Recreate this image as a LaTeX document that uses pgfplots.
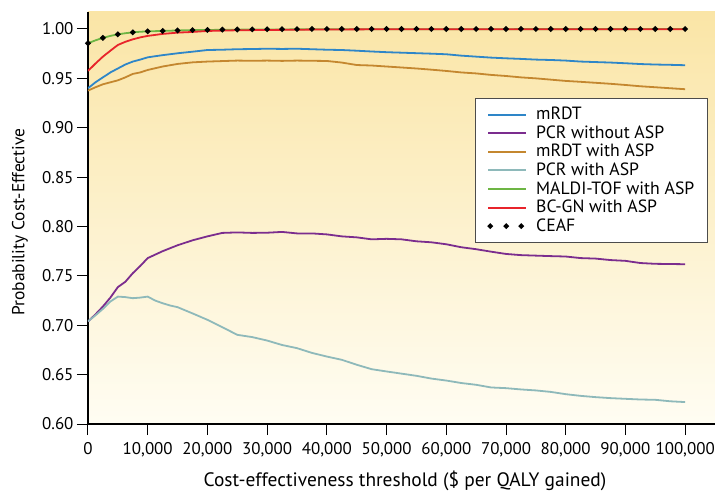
\documentclass[border=0pt]{standalone}
\usepackage{fontspec}
\setmainfont{PT Sans}
\usepackage{pgfplots}
\pgfplotsset{compat=1.18}
\definecolor{cBlue}{RGB}{46,134,200}
\definecolor{cPurple}{RGB}{123,45,142}
\definecolor{cOrange}{RGB}{196,135,47}
\definecolor{cTeal}{RGB}{142,185,186}
\definecolor{cGreen}{RGB}{109,181,68}
\definecolor{cRed}{RGB}{232,36,43}
\definecolor{bgTop}{RGB}{250,229,166}
\definecolor{bgBot}{RGB}{255,253,243}
\begin{document}
\begin{tikzpicture}
\useasboundingbox (-88bp,-67bp) rectangle (627bp,424bp);
\begin{axis}[
  at={(0,0)}, anchor=south west,
  scale only axis, width=627bp, height=412bp,
  xmin=0, xmax=105000, ymin=0.60, ymax=1.0172,
  scaled x ticks=false, scaled y ticks=false,
  axis x line*=bottom, axis y line*=left,
  axis line style={line width=1.5bp, -},
  axis background/.style={top color=bgTop, bottom color=bgBot},
  tick align=outside, major tick length=11bp,
  tick style={black, line width=1bp},
  xtick={0,10000,20000,30000,40000,50000,60000,70000,80000,90000,100000},
  xticklabels={0,{10,000},{20,000},{30,000},{40,000},{50,000},{60,000},{70,000},{80,000},{90,000},{100,000}},
  ytick={0.60,0.65,0.70,0.75,0.80,0.85,0.90,0.95,1.00},
  yticklabels={0.60,0.65,0.70,0.75,0.80,0.85,0.90,0.95,1.00},
  ticklabel style={font=\fontsize{17}{20}\selectfont},
  x tick label style={text height=16bp},
  every axis y label/.style={at={(rel axis cs:0,0.49)}, xshift=-68bp, rotate=90, anchor=center, font=\fontsize{17.5}{21}\selectfont},
  every axis x label/.style={at={(rel axis cs:0.5056,0)}, yshift=-57bp, anchor=center, font=\fontsize{19.5}{22}\selectfont},
  xlabel={Cost-effectiveness threshold (\$ per QALY gained)},
  ylabel={Probability Cost-Effective},
  legend image code/.code={\draw[#1, line width=2bp] (0bp,0bp) -- (38bp,0bp); \path (46bp,0bp);},
  legend cell align=left,
  legend style={at={(rel axis cs:0.617,0.791)}, anchor=north west,
    draw=black!70, line width=0.8bp, fill=white,
    font=\fontsize{17.8}{20}\selectfont,
    inner xsep=12bp, inner ysep=6.7bp,
    nodes={inner sep=1bp, text height=13.5bp, text depth=3.1bp}},
  every axis plot/.append style={line width=1.8bp},
]
\addplot[cBlue] coordinates {
(0,0.940) (1250,0.946) (2500,0.951) (3750,0.956) (5000,0.960) (6250,0.964) (7500,0.967) (8750,0.969) (10000,0.9713)
(12500,0.9735) (15000,0.9754) (17500,0.977) (20000,0.9787) (22500,0.979) (25000,0.9795) (27500,0.9797) (30000,0.980)
(32500,0.9798) (35000,0.980) (37500,0.9795) (40000,0.979) (42500,0.9787) (45000,0.978) (47500,0.9772) (50000,0.9765)
(52500,0.976) (55000,0.9755) (57500,0.975) (60000,0.9744) (62500,0.973) (65000,0.972) (67500,0.971) (70000,0.9703)
(72500,0.9697) (75000,0.969) (77500,0.9686) (80000,0.968) (82500,0.967) (85000,0.9665) (87500,0.966) (90000,0.9653)
(92500,0.9645) (95000,0.964) (97500,0.9637) (100000,0.9633)};
\addlegendentry{mRDT}
\addplot[cPurple] coordinates {
(0,0.7037) (1250,0.711) (2500,0.719) (3750,0.728) (5000,0.7386) (6250,0.744) (7500,0.7527) (8750,0.760) (10000,0.768)
(12500,0.775) (15000,0.781) (17500,0.786) (20000,0.790) (22500,0.7935) (25000,0.794) (27500,0.7935) (30000,0.7937)
(32500,0.7945) (35000,0.793) (37500,0.793) (40000,0.792) (42500,0.790) (45000,0.789) (47500,0.787) (50000,0.7875)
(52500,0.787) (55000,0.785) (57500,0.784) (60000,0.782) (62500,0.779) (65000,0.777) (67500,0.7745) (70000,0.7722)
(72500,0.771) (75000,0.7705) (77500,0.770) (80000,0.7696) (82500,0.768) (85000,0.7675) (87500,0.766) (90000,0.7652)
(92500,0.763) (95000,0.7622) (97500,0.762) (100000,0.7618)};
\addlegendentry{PCR without ASP}
\addplot[cOrange] coordinates {
(0,0.9376) (1250,0.941) (2500,0.944) (3750,0.946) (5000,0.948) (6250,0.951) (7500,0.9545) (8750,0.956) (10000,0.9585)
(12500,0.962) (15000,0.9646) (17500,0.9662) (20000,0.967) (22500,0.9675) (25000,0.968) (27500,0.9678) (30000,0.968)
(32500,0.9677) (35000,0.968) (37500,0.9678) (40000,0.9676) (42500,0.966) (45000,0.9635) (47500,0.963) (50000,0.962)
(52500,0.961) (55000,0.960) (57500,0.9588) (60000,0.9575) (62500,0.956) (65000,0.955) (67500,0.9535) (70000,0.9524)
(72500,0.951) (75000,0.950) (77500,0.9487) (80000,0.9474) (82500,0.9465) (85000,0.9455) (87500,0.9445) (90000,0.9433)
(92500,0.942) (95000,0.941) (97500,0.940) (100000,0.939)};
\addlegendentry{mRDT with ASP}
\addplot[cTeal] coordinates {
(0,0.704) (1250,0.710) (2500,0.7166) (3750,0.724) (5000,0.729) (6250,0.7285) (7500,0.7274) (8750,0.728) (10000,0.729)
(11250,0.725) (12500,0.7223) (13750,0.720) (15000,0.7183) (17500,0.712) (20000,0.7055) (22500,0.698) (25000,0.6903)
(27500,0.688) (30000,0.6845) (32500,0.680) (35000,0.6768) (37500,0.672) (40000,0.6683) (42500,0.665) (45000,0.660)
(47500,0.6555) (50000,0.6532) (52500,0.651) (55000,0.6488) (57500,0.646) (60000,0.644) (62500,0.6415) (65000,0.6397)
(67500,0.637) (70000,0.6363) (72500,0.635) (75000,0.634) (77500,0.6325) (80000,0.6302) (82500,0.6285) (85000,0.6272)
(87500,0.6262) (90000,0.6255) (92500,0.6248) (95000,0.6245) (97500,0.623) (100000,0.6222)};
\addlegendentry{PCR with ASP}
\addplot[cGreen] coordinates {
(0,0.9855) (1250,0.9885) (2500,0.991) (3750,0.993) (5000,0.9946) (6250,0.9957) (7500,0.9966) (8750,0.9972) (10000,0.9976)
(12500,0.998) (15000,0.9985) (17500,0.9988) (20000,0.999) (25000,0.9993) (30000,0.9995) (40000,0.9997) (60000,0.9998) (100000,0.9999)};
\addlegendentry{MALDI-TOF with ASP}
\addplot[cRed] coordinates {
(0,0.9575) (1250,0.965) (2500,0.972) (3750,0.978) (5000,0.9838) (6250,0.987) (7500,0.9895) (8750,0.9915) (10000,0.993)
(12500,0.995) (15000,0.9963) (17500,0.997) (20000,0.998) (25000,0.9987) (30000,0.999) (40000,0.9995) (50000,0.9997)
(70000,0.9998) (100000,0.9998)};
\addlegendentry{BC-GN with ASP}
\addplot[only marks, mark=*, mark size=1.8bp, black,
  legend image code/.code={\fill (2bp,0bp) circle (1.8bp); \fill (18bp,0bp) circle (1.8bp); \fill (33bp,0bp) circle (1.8bp); \path (0bp,0bp) (46bp,0bp);}]
coordinates {
(0,0.9855) (2500,0.991) (5000,0.9946) (7500,0.9966) (10000,0.9976) (12500,0.998) (15000,0.9985) (17500,0.9988)
(20000,0.999) (22500,0.9993) (25000,0.9995) (27500,0.9996) (30000,0.9997) (32500,0.9998) (35000,0.9999) (37500,1.0)
(40000,1.0) (42500,1.0) (45000,1.0) (47500,1.0) (50000,1.0) (52500,1.0) (55000,1.0) (57500,1.0) (60000,1.0)
(62500,1.0) (65000,1.0) (67500,1.0) (70000,1.0) (72500,1.0) (75000,1.0) (77500,1.0) (80000,1.0) (82500,1.0)
(85000,1.0) (87500,1.0) (90000,1.0) (92500,1.0) (95000,1.0) (97500,1.0) (100000,1.0)};
\addlegendentry{CEAF}
\end{axis}
\end{tikzpicture}
\end{document}
